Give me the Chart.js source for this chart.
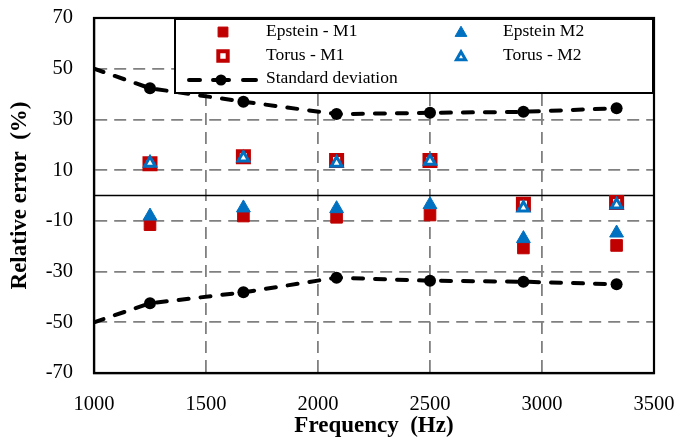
<!DOCTYPE html>
<html>
<head>
<meta charset="utf-8">
<script src="https://cdn.jsdelivr.net/npm/chart.js@4/dist/chart.umd.min.js"></script>
<style>
  html, body { margin: 0; padding: 0; background: #fff; }
  #wrap { width: 679px; height: 439px; }
</style>
</head>
<body>
<div id="wrap"><canvas id="c" width="679" height="439"></canvas></div>
<script>
// ---- data ----
const frequencies = [1250, 1667, 2083, 2500, 2917, 3333];
const stdFrequencies = [1000, 1250, 1667, 2083, 2500, 2917, 3333];
const epsteinM1 = [-11.5, -8.1, -8.6, -7.7, -20.7, -19.7];
const torusM1 = [12.5, 15.3, 13.8, 13.8, -3.5, -2.8];
const epsteinM2 = [-8.1, -4.9, -5.2, -3.6, -17.0, -14.8];
const torusM2 = [12.8, 14.8, 12.8, 13.5, -4.9, -3.7];
const stdUpper = [50, 42.3, 37.0, 32.1, 32.6, 33.0, 34.4];
const stdLower = [-50, -42.5, -38.2, -32.4, -33.6, -34.0, -35.0];
const xTicks = [1000, 1500, 2000, 2500, 3000, 3500];
const yTicks = [-70, -50, -30, -10, 10, 30, 50, 70];
const legendLabels = ['Epstein - M1', 'Epstein M2', 'Torus - M1', 'Torus - M2', 'Standard deviation'];

const RED = '#c00000';
const BLUE = '#0070c0';
const FONT = "'Liberation Serif', 'Times New Roman', serif";

const pts = (xs, ys) => xs.map((x, i) => ({x, y: ys[i]}));

const styles = {
  epM1: {pointStyle: 'rect', radius: 8.2, bg: RED, border: RED, bw: 1},
  toM1: {pointStyle: 'rect', radius: 7.8, bg: '#ffffff', border: RED, bw: 4},
  epM2: {pointStyle: 'triangle', radius: 8, bg: BLUE, border: BLUE, bw: 1},
  toM2: {pointStyle: 'triangle', radius: 6.2, bg: '#ffffff', border: BLUE, bw: 3},
};
function ds(label, xs, ys, s, order) {
  return {
    label, data: pts(xs, ys), showLine: false, order,
    pointStyle: s.pointStyle, pointRadius: s.radius, pointHoverRadius: s.radius,
    pointBackgroundColor: s.bg, pointBorderColor: s.border, pointBorderWidth: s.bw,
    backgroundColor: s.bg, borderColor: s.border
  };
}
function stdDs(label, ys) {
  return {
    label, data: pts(stdFrequencies, ys), showLine: true, order: 3,
    borderColor: '#000', borderWidth: 4, borderDash: [10, 12], borderCapStyle: 'round',
    pointStyle: 'circle', pointRadius: stdFrequencies.map((f, i) => i === 0 ? 0 : 6),
    pointBackgroundColor: '#000', pointBorderColor: '#000', pointBorderWidth: 0,
    tension: 0, fill: false
  };
}

const framePlugin = {
  id: 'frame',
  beforeDatasetsDraw(chart) {
    const {ctx, chartArea: a, scales: {y}} = chart;
    const y0 = y.getPixelForValue(0);
    ctx.save();
    ctx.strokeStyle = '#000'; ctx.lineWidth = 1.6;
    ctx.beginPath(); ctx.moveTo(a.left, y0); ctx.lineTo(a.right, y0); ctx.stroke();
    ctx.restore();
  },
  afterDraw(chart) {
    const {ctx, chartArea: a} = chart;
    ctx.save();
    ctx.strokeStyle = '#000'; ctx.lineWidth = 2.2;
    ctx.strokeRect(a.left, a.top, a.right - a.left, a.bottom - a.top);
    // legend box
    const bx = 175, by = 19, bw = a.right - 1 - bx, bh = 93 - by;
    ctx.fillStyle = '#fff';
    ctx.fillRect(bx, by, bw, bh);
    ctx.lineWidth = 2;
    ctx.strokeRect(bx, by, bw, bh);
    const H = Chart.helpers;
    const mark = (s, x, y, scale) => {
      ctx.fillStyle = s.bg; ctx.strokeStyle = s.border; ctx.lineWidth = s.bw;
      H.drawPoint(ctx, {pointStyle: s.pointStyle, radius: s.radius * scale, rotation: 0, borderWidth: s.bw}, x, y);
    };
    mark(styles.epM1, 223, 32, 0.85);
    mark(styles.toM1, 223, 56, 0.85);
    mark(styles.epM2, 461, 33, 0.85);
    mark(styles.toM2, 461, 57, 0.85);
    // std dev sample
    ctx.strokeStyle = '#000'; ctx.lineWidth = 4; ctx.lineCap = 'round';
    ctx.beginPath();
    ctx.moveTo(189, 80); ctx.lineTo(200, 80);
    ctx.moveTo(213, 80); ctx.lineTo(229, 80);
    ctx.moveTo(243, 80); ctx.lineTo(256, 80);
    ctx.stroke();
    ctx.fillStyle = '#000';
    ctx.beginPath(); ctx.arc(221, 80, 5.5, 0, Math.PI * 2); ctx.fill();
    ctx.fillStyle = '#000';
    ctx.font = '17.5px ' + FONT;
    ctx.textBaseline = 'middle'; ctx.textAlign = 'left';
    ctx.fillText(legendLabels[0], 266, 31);
    ctx.fillText(legendLabels[1], 503, 31);
    ctx.fillText(legendLabels[2], 266, 55);
    ctx.fillText(legendLabels[3], 503, 55);
    ctx.fillText(legendLabels[4], 266, 78);
    ctx.restore();
  }
};

const zeroPad = (s) => { s.paddingLeft = 0; s.paddingRight = 0; s.paddingTop = 0; s.paddingBottom = 0; };

new Chart(document.getElementById('c'), {
  type: 'scatter',
  data: {
    datasets: [
      ds('Torus - M2', frequencies, torusM2, styles.toM2, 0),
      ds('Epstein M2', frequencies, epsteinM2, styles.epM2, 1),
      ds('Torus - M1', frequencies, torusM1, styles.toM1, 2),
      ds('Epstein - M1', frequencies, epsteinM1, styles.epM1, 2),
      stdDs('Standard deviation', stdUpper),
      stdDs('Standard deviation (lower)', stdLower)
    ]
  },
  options: {
    responsive: false,
    animation: false,
    devicePixelRatio: 1,
    layout: {padding: {top: 18, right: 25, left: 0, bottom: 0}},
    plugins: {legend: {display: false}, tooltip: {enabled: false}},
    scales: {
      x: {
        type: 'linear', min: 1000, max: 3500,
        afterBuildTicks: (s) => { s.ticks = xTicks.map(v => ({value: v})); },
        afterFit: (s) => { s.height = 66; zeroPad(s); },
        grid: {color: '#808080', lineWidth: 1.8, drawTicks: false},
        border: {display: true, color: '#000', width: 2.2, dash: [12, 7]},
        ticks: {color: '#000', padding: 19, font: {family: FONT, size: 20.5}, maxRotation: 0,
                callback: (v) => String(v)},
        title: {display: true, text: 'Frequency  (Hz)', color: '#000', padding: {top: 0, bottom: 0},
                font: {family: FONT, size: 23, weight: 'bold', lineHeight: 1.1}}
      },
      y: {
        type: 'linear', min: -70, max: 70,
        afterBuildTicks: (s) => { s.ticks = yTicks.map(v => ({value: v})); },
        afterFit: (s) => { s.width = 94; zeroPad(s); },
        grid: {color: '#808080', lineWidth: 1.8, drawTicks: false},
        border: {display: true, color: '#000', width: 2.2, dash: [12, 7]},
        ticks: {color: '#000', padding: 21, font: {family: FONT, size: 20.5},
                callback: (v) => String(v)},
        title: {display: true, text: 'Relative error  (%)', color: '#000', padding: {top: 7, bottom: 0},
                font: {family: FONT, size: 23, weight: 'bold', lineHeight: 1.1}}
      }
    }
  },
  plugins: [framePlugin]
});
</script>
</body>
</html>
